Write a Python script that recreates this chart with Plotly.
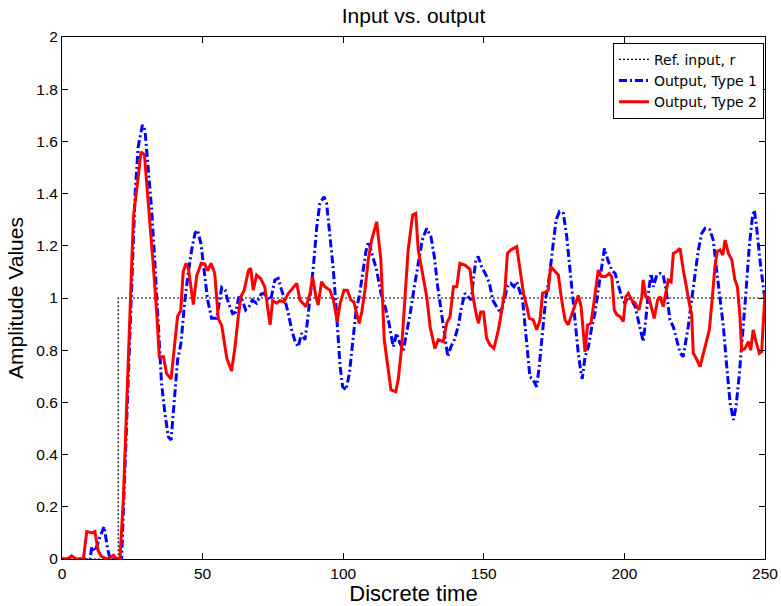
import plotly.graph_objects as go

# Reference input (step)
ref_t = [0, 20, 20, 250]
ref_v = [0, 0, 1, 1]

# Output, Type 1 (blue dash-dot)
t1_t = [0, 10, 10.6, 11.8, 13.5, 15, 16.2, 17.1, 21.2, 22.4, 23.6, 24.8, 26, 27.1, 28.6, 29.5, 30.7, 31.9,
        33.1, 34.3, 35.4, 36.6, 37.8, 38.8, 39.9, 41.1, 42.3, 43.7, 44.9, 46.1, 47.3, 48.2, 49.4, 50.6,
        51.8, 53.2, 55, 56.8, 58, 59.2, 60.7, 61.8, 62.9, 64.1, 65.3, 66.5, 67.7, 69.2, 70.8, 71.6, 72.8,
        74.2, 75.7, 76.9, 78.1, 79.3, 80.5, 81.7, 82.9, 84, 85.2, 86.4, 87.2, 88.2, 89.4, 90.6, 91.7, 93.2,
        94.1, 95.3, 96.5, 97.7, 98.9, 99.8, 101, 102.2, 103.4, 104.6, 105.7, 106.9, 108.1, 109, 110.1,
        111.9, 113.4, 114.9, 116.3, 117.8, 119, 120.2, 121.4, 122.6, 123.8, 125.3, 126.7, 128.1, 129.7,
        131.2, 132.4, 133.6, 134.8, 136, 137.2, 138.3, 139.5, 140.9, 142.1, 143.3, 144.5, 145.5, 146.4,
        147.2, 148, 149.2, 150.8, 152, 153.2, 154.6, 156, 157.2, 158.4, 159.6, 160.7, 161.7, 162.9, 163.8,
        164.7, 165.5, 166.4, 167.6, 168.8, 169.7, 170.9, 172.1, 173.3, 174.5, 175.7, 176.9, 178.3, 179.5,
        180.7, 181.8, 182.6, 183.6, 184.6, 185, 186, 187.2, 188.4, 189.5, 190.7, 191.7, 192.9, 194.1,
        195.5, 196.7, 197.8, 199, 200.2, 201.4, 202.6, 203.8, 204.9, 205.9, 206.7, 207.6, 208.5, 209.5,
        210.3, 211.5, 212.7, 213.8, 215, 216.2, 217.4, 218.6, 219.8, 220.9, 221.9, 222.7, 223.9, 225.1,
        226.3, 227.5, 228.7, 230.4, 231.6, 232.8, 234, 235.2, 236.4, 237.6, 238.8, 239.7, 240.9, 242.1,
        243.2, 244.4, 245.6, 246.2, 247, 248.2, 249.4, 250]
t1_v = [0, 0, 0.047, 0.03, 0.085, 0.124, 0.04, 0, 0, 0.354, 0.737, 1.12, 1.40, 1.58, 1.663, 1.644, 1.503, 1.337,
        1.12, 0.865, 0.673, 0.558, 0.469, 0.456, 0.609, 0.762, 0.826, 0.992, 1.095, 1.184, 1.248, 1.26, 1.209, 1.095,
        0.992, 0.922, 0.922, 1.04, 1.03, 0.98, 0.94, 0.946, 1.005, 0.992, 0.954, 0.967, 0.992, 0.98, 1.015, 1.018, 1.005,
        0.992, 1.069, 1.075, 1.03, 0.992, 0.94, 0.877, 0.833, 0.813, 0.865, 0.84, 0.903, 0.992, 1.12, 1.273, 1.363, 1.388,
        1.363, 1.235, 1.107, 0.929, 0.737, 0.66, 0.648, 0.711, 0.84, 0.954, 1.005, 1.094, 1.18, 1.216, 1.171,
        1.107, 1.018, 0.967, 0.903, 0.813, 0.865, 0.826, 0.80, 0.865, 0.94, 1.043, 1.133, 1.222, 1.267,
        1.235, 1.159, 1.043, 0.954, 0.865, 0.775, 0.813, 0.84, 0.89, 0.967, 1.018, 1.005, 0.992, 1.082,
        1.146, 1.159, 1.12, 1.088, 1.056, 0.992, 0.967, 0.94, 0.992, 1.043, 1.056, 1.043, 1.062, 1.018, 0.992,
        0.89, 0.788, 0.698, 0.686, 0.66, 0.737, 0.878, 1.005, 1.082, 1.197, 1.299, 1.331, 1.324, 1.235,
        1.107, 0.98, 0.88, 0.788, 0.711, 0.69, 0.775, 0.813, 0.89, 0.94, 1.03, 1.107, 1.19, 1.146,
        1.107, 1.094, 1.056, 1.005, 0.98, 1.005, 0.992, 0.967, 0.916, 0.865, 0.833, 0.916, 1.018, 1.094,
        1.043, 1.088, 1.094, 1.088, 1.018, 0.916, 0.89, 0.84, 0.79, 0.775, 0.84, 0.89, 0.992, 1.094,
        1.184, 1.248, 1.267, 1.261, 1.222, 1.107, 0.992, 0.89, 0.737, 0.597, 0.533, 0.584, 0.711, 0.865,
        1.018, 1.197, 1.318, 1.337, 1.273, 1.146, 1.043, 0.99]

# Output, Type 2 (red solid)
t2_t = [0, 2, 3.4, 5, 7.6, 8.8, 10.8, 11.7, 12.9, 14, 16, 18.3, 19.5, 20.6, 21.8, 23, 24.2, 25.4, 27.1, 28.1,
        29.3, 30.7, 32.5, 33.7, 34.6, 36.1, 37.2, 38.8, 40.0, 41.1, 42.2, 43.1, 44.1, 45, 46.7, 47.9, 49.5,
        50.8, 51.8, 53, 54.3, 55.6, 56.8, 58.6, 60.3, 61.5, 62.7, 63.6, 64.8, 66.3, 67.1, 68, 69.2, 70.6,
        72.1, 73, 74, 74.9, 76.3, 77.5, 78.9, 80.5, 82.3, 83.5, 84.6, 85.8, 86.8, 88.2, 89.1, 90.3, 91.1,
        92.3, 93.5, 95.3, 96.5, 97.9, 98.9, 100.3, 101.5, 102.7, 103.8, 104.8, 105.7, 106.6, 107.8, 108.9,
        110.1, 111.9, 113.4, 114.6, 115.8, 117, 118.7, 119.6, 120.8, 122, 123.1, 124.7, 125.8, 126.7,
        128.1, 129.7, 130.9, 132.6, 133.8, 135.6, 136.8, 138, 139.2, 140.4, 141.5, 143.3, 145.1, 146.3,
        147.5, 148.1, 148.9, 149.9, 151, 152.2, 153.6, 155.2, 156.4, 157.5, 158.4, 159.6, 161.7, 162.9,
        164.1, 165.3, 166.2, 167.6, 168.8, 170, 170.9, 172.1, 172.9, 173.8, 175.3, 176.5, 177.7, 178.9,
        180, 181.3, 182.4, 183.6, 184.6, 185.4, 186, 186.9, 188.1, 189.3, 190.7, 191.9, 193.3, 194.6,
        195.5, 196.4, 197.3, 198.4, 199.6, 200.5, 201.4, 202.6, 203.8, 205.2, 206.2, 206.7, 207.6, 208.8,
        209.7, 210.6, 211.8, 212.7, 213.8, 214.7, 215.6, 216.6, 217.4, 218.6, 219.8, 220.9, 222.1, 223.3,
        223.9, 224.5, 225.5, 226.9, 228.1, 229.3, 230.2, 231.1, 232.2, 233, 234, 235, 235.8, 237, 238.2,
        239.3, 240.2, 241.1, 241.7, 242.9, 244.1, 244.9, 245.8, 246.8, 248, 248.8, 249.6, 250]
t2_v = [0, 0, 0.012, 0, 0, 0.105, 0.10, 0.105, 0.03, 0.01, 0, 0.015, 0, 0, 0.226, 0.61, 0.99, 1.31, 1.465, 1.56,
        1.55, 1.375, 1.12, 0.94, 0.775, 0.775, 0.71, 0.69, 0.82, 0.93, 0.95, 1.10, 1.133, 1.11, 0.975, 1.085, 1.133,
        1.13, 1.105, 1.133, 1.095, 0.92, 0.895, 0.77, 0.72, 0.81, 0.93, 1.005, 1.03, 1.105, 1.114, 1.03, 1.088, 1.075,
        1.043, 0.967, 0.897, 0.99, 0.98, 0.99, 0.985, 1.018, 1.043, 1.056, 0.992, 0.98, 0.967, 1.018, 1.082, 1.005, 0.973,
        1.062, 1.043, 1.03, 0.992, 0.909, 0.98, 1.03, 1.03, 0.992, 0.985, 0.94, 0.903, 0.946, 1.035, 1.146,
        1.222, 1.292, 1.146, 0.839, 0.737, 0.648, 0.641, 0.69, 0.813, 1.018, 1.184, 1.318, 1.324, 1.184,
        1.107, 1.005, 0.89, 0.807, 0.84, 0.833, 0.903, 0.929, 1.043, 1.043, 1.133, 1.126, 1.11, 0.995,
        0.928, 0.903, 0.946, 0.946, 0.846, 0.82, 0.807, 0.878, 0.954, 1.03, 1.171, 1.184, 1.197, 1.107,
        1.018, 0.967, 0.922, 0.916, 0.878, 0.916, 1.018, 1.024, 1.03, 1.12, 1.10, 1.088, 0.992, 0.916,
        0.897, 0.94, 0.975, 1.01, 0.967, 0.865, 0.794, 0.897, 0.903, 0.992, 1.107, 1.082, 1.082, 1.094,
        1.082, 0.954, 0.935, 0.929, 0.91, 1.005, 1.018, 0.992, 0.98, 0.954, 1.005, 1.069, 1.005, 0.998,
        0.954, 0.922, 0.992, 1.005, 0.967, 1.024, 1.069, 1.062, 1.171, 1.178, 1.19, 1.11, 1.03, 0.967,
        0.94, 0.788, 0.769, 0.737, 0.788, 0.84, 0.878, 0.98, 1.12, 1.178, 1.184, 1.165, 1.222, 1.171, 1.146,
        1.069, 1.043, 0.929, 0.80, 0.807, 0.833, 0.80, 0.878, 0.833, 0.788, 0.794, 0.954, 1.02]

x_ticks = [0, 50, 100, 150, 200, 250]
y_ticks = [0, 0.2, 0.4, 0.6, 0.8, 1, 1.2, 1.4, 1.6, 1.8, 2]
y_tick_labels = ["0", "0.2", "0.4", "0.6", "0.8", "1", "1.2", "1.4", "1.6", "1.8", "2"]

FONT = "Arial, 'Liberation Sans', sans-serif"
LEGEND_FONT = "'DejaVu Sans', Arial, sans-serif"

fig = go.Figure()
fig.add_trace(go.Scatter(x=ref_t, y=ref_v, mode="lines", name="Ref. input, r",
                         line=dict(color="black", width=1.2, dash="2px,2px")))
fig.add_trace(go.Scatter(x=t1_t, y=t1_v, mode="lines", name="Output, Type 1",
                         line=dict(color="#0000ff", width=3, dash="8px,3px,2px,3px")))
fig.add_trace(go.Scatter(x=t2_t, y=t2_v, mode="lines", name="Output, Type 2",
                         line=dict(color="#ff0000", width=3)))

axis_common = dict(showline=True, linecolor="black", linewidth=1, mirror="ticks",
                   ticks="inside", ticklen=6, tickcolor="black", showgrid=False, zeroline=False,
                   automargin=False,
                   tickfont=dict(family=FONT, size=15.5, color="black"))

fig.update_layout(
    width=781, height=606,
    paper_bgcolor="white", plot_bgcolor="white",
    margin=dict(l=62, r=16, t=37, b=47),
    title=dict(text="Input vs. output", x=0.5, xanchor="center", y=0.9736, yanchor="middle",
               xref="paper", font=dict(family=FONT, size=21, color="black")),
    xaxis=dict(range=[0, 250], tickvals=x_ticks,
               title=dict(text="Discrete time", font=dict(family=FONT, size=22, color="black"), standoff=2),
               **axis_common),
    yaxis=dict(range=[0, 2], tickvals=y_ticks, ticktext=y_tick_labels,
               title=dict(text="Amplitude Values", font=dict(family=FONT, size=21, color="black"), standoff=6),
               **axis_common),
    legend=dict(x=0.9985, y=0.989, xanchor="right", yanchor="top",
                bgcolor="white", bordercolor="black", borderwidth=1,
                font=dict(family=LEGEND_FONT, size=14, color="black"),
                tracegroupgap=0, itemwidth=30),
    showlegend=True,
)

fig.write_html("out.html", config={"displayModeBar": False},
               post_script="document.body.style.margin='0';document.body.style.overflow='hidden';")
